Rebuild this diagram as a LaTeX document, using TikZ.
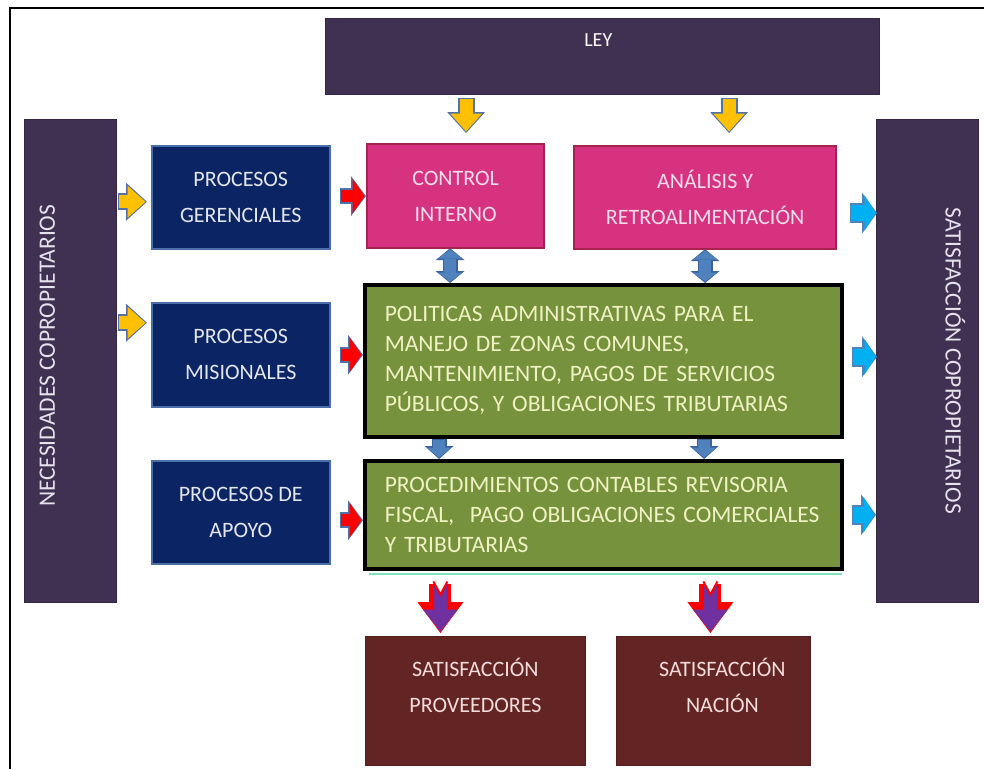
\documentclass[tikz,border=0pt]{standalone}
\usepackage{fontspec}
\setmainfont{Carlito}
\usetikzlibrary{calc,arrows.meta}

\definecolor{morado}{HTML}{403152}
\definecolor{azul}{HTML}{0B2463}
\definecolor{azulbd}{HTML}{4A6FA8}
\definecolor{rosa}{HTML}{D6327F}
\definecolor{rosabd}{HTML}{A8224E}
\definecolor{oliva}{HTML}{76923C}
\definecolor{cafe}{HTML}{632523}
\definecolor{amarillo}{HTML}{FFC000}
\definecolor{flechabd}{HTML}{4F72A8}
\definecolor{celeste}{HTML}{00B0F0}
\definecolor{acero}{HTML}{4F81BD}
\definecolor{acerobd}{HTML}{3A62A0}
\definecolor{violeta}{HTML}{7030A0}
\definecolor{txtverde}{HTML}{F0F2C4}
\definecolor{txtrosa}{HTML}{F8DDEA}
\definecolor{txtazul}{HTML}{E4E6EE}
\definecolor{txtcafe}{HTML}{F2DCDB}
\definecolor{txtlado}{HTML}{E6E2EC}
\definecolor{menta}{HTML}{7FE3B8}

\tikzset{
	caja/.style={anchor=north west, inner sep=0pt, align=center, font=\fontsize{22}{36}\selectfont},
	gerbox/.style={caja, fill=azul, draw=azulbd, line width=1.5pt, text=txtazul},
	rosabox/.style={caja, fill=rosa, draw=rosabd, line width=2.2pt, text=txtrosa},
	verdebox/.style={anchor=north west, fill=oliva, draw=black, line width=3.5pt, text=txtverde,
		align=left, inner xsep=20pt, inner ysep=0pt, text width=437pt, font=\fontsize{23.5}{30}\selectfont},
	barra/.style={anchor=north west, fill=morado, draw=morado!80!black, line width=0.6pt, inner sep=0pt},
	cafebox/.style={anchor=north west, fill=cafe, draw=cafe!85!black, line width=0.8pt, inner sep=0pt},
	cafetxt/.style={align=center, inner sep=0pt, text=txtcafe, font=\fontsize{22}{36}\selectfont},
	ladotxt/.style={inner sep=0pt, text=txtlado, font=\fontsize{23.5}{28}\selectfont},
	leytxt/.style={inner sep=0pt, text=white, font=\fontsize{20}{24}\selectfont},
	fat/.style n args={8}{draw=#1, line width=#3, shorten >=1.5pt, shorten <=1.2pt,
		-{Triangle[width=#4, length=#5, line width'=0pt]},
		preaction={draw=#2, line width=#6, shorten >=0pt, shorten <=0pt,
			-{Triangle[width=#7, length=#8, line width'=0pt]}}},
	fatdos/.style n args={8}{draw=#1, line width=#3, shorten >=1.5pt, shorten <=1.5pt,
		{Triangle[width=#4, length=#5, line width'=0pt]}-{Triangle[width=#4, length=#5, line width'=0pt]},
		preaction={draw=#2, line width=#6, shorten >=0pt, shorten <=0pt,
			{Triangle[width=#7, length=#8, line width'=0pt]}-{Triangle[width=#7, length=#8, line width'=0pt]}}},
	yarr/.style={fat={amarillo}{flechabd}{13pt}{32pt}{18pt}{17pt}{38pt}{21pt}},
	rarr/.style={fat={red}{flechabd}{12pt}{35pt}{12pt}{16pt}{40pt}{15pt}},
	carr/.style={fat={celeste}{acero}{16pt}{36pt}{11pt}{20pt}{41pt}{15pt}},
	barr/.style={fat={acero}{acerobd}{12pt}{25pt}{10pt}{15pt}{29pt}{13pt}},
	darr/.style={fatdos={acero}{acerobd}{12pt}{25pt}{9pt}{15pt}{29pt}{12pt}},
	parr/.style={fat={violeta}{red}{13pt}{35pt}{22pt}{22pt}{46pt}{31pt}},
	muesca/.style={fill=white, draw=red, line width=2pt}
}

\begin{document}
\begin{tikzpicture}[x=1pt, y=-1pt]
	\useasboundingbox (0,0) rectangle (984,769);
	\draw[line width=1.2pt] (10,769) |- (984,8);
	
	\node[barra, minimum width=554, minimum height=76] (ley) at (325,18) {};
	\node[barra, minimum width=92, minimum height=483] (necesidades) at (24,119) {};
	\node[barra, minimum width=102, minimum height=483] (satisf) at (876,119) {};
	
	\node[gerbox, minimum width=178, minimum height=103] (gerenciales) at (151,145) {PROCESOS\\GERENCIALES};
	\node[gerbox, minimum width=178, minimum height=104] (misionales) at (151,302) {PROCESOS\\MISIONALES};
	\node[gerbox, minimum width=178, minimum height=103] (apoyo) at (151,460) {PROCESOS DE\\APOYO};
	
	\node[rosabox, minimum width=177, minimum height=104] (control) at (366,143) {CONTROL\\INTERNO};
	\node[rosabox, minimum width=262, minimum height=103] (analisis) at (573,145) {ANÁLISIS Y\\RETROALIMENTACIÓN};
	
	\node[verdebox, minimum height=152] (politicas) at (363,283)
		{POLITICAS ADMINISTRATIVAS PARA EL\\MANEJO DE ZONAS COMUNES,\\MANTENIMIENTO, PAGOS DE SERVICIOS\\PÚBLICOS, Y OBLIGACIONES TRIBUTARIAS};
	\node[verdebox, minimum height=108] (procedimientos) at (363,459)
		{PROCEDIMIENTOS CONTABLES REVISORIA\\FISCAL,~ PAGO OBLIGACIONES COMERCIALES\\Y TRIBUTARIAS};
	\draw[menta, line width=1.5pt] ($(procedimientos.south west)+(6,3.5)$) -- ($(procedimientos.south east)+(-2,3.5)$);
	
	\node[cafebox, minimum width=220, minimum height=129] (proveedores) at (365,636) {};
	\node[cafebox, minimum width=194, minimum height=129] (nacion) at (616,636) {};
	
	\node[leytxt] (leytexto) at ($(ley.north)+(-4,22.5)$) {LEY};
	\node[ladotxt, rotate=90] (necesidadestexto) at ($(necesidades.center)+(-23,-5)$) {NECESIDADES COPROPIETARIOS};
	\node[ladotxt, rotate=-90] (satisftexto) at ($(satisf.center)+(28,0)$) {SATISFACCIÓN COPROPIETARIOS};
	\node[cafetxt] (proveedorestexto) at ($(proveedores.north)+(0,49)$) {SATISFACCIÓN\\PROVEEDORES};
	\node[cafetxt] (naciontexto) at ($(nacion.north)+(9,49)$) {SATISFACCIÓN\\NACIÓN};
	
	\draw[yarr] ($(ley.south -| control.north)+(10.5,3)$) -- ($(control.north)+(10.5,-10)$);
	\draw[yarr] ($(ley.south -| analisis.north)+(24,3)$) -- ($(analisis.north)+(24,-12)$);
	\draw[yarr] ($(necesidades.east |- gerenciales.west)+(1,4.5)$) -- ($(gerenciales.west)+(-4,4.5)$);
	\draw[yarr] ($(necesidades.east |- misionales.west)+(1,-32)$) -- ($(misionales.west)+(-4,-32)$);
	
	\draw[rarr] ($(gerenciales.east |- control.west)+(9,0)$) -- (control.west);
	\draw[rarr] ($(misionales.east)+(9,0)$) -- (misionales.east -| politicas.west);
	\draw[rarr] ($(apoyo.east)+(9,8)$) -- ($(apoyo.east -| procedimientos.west)+(0,8)$);
	
	\draw[darr] ($(control.south)+(-5.5,-1)$) -- ($(politicas.north -| control.south)+(-5.5,0)$);
	\draw[darr] ($(analisis.south)+(0,-1)$) -- (politicas.north -| analisis.south);
	
	\draw[barr] ($(politicas.south -| control.south)+(-16.5,0)$) -- ($(procedimientos.north -| control.south)+(-16.5,0)$);
	\draw[barr] ($(politicas.south -| analisis.south)+(-1,0)$) -- ($(procedimientos.north -| analisis.south)+(-1,0)$);
	
	\draw[carr] ($(analisis.east)+(13,15.5)$) -- ($(analisis.east -| satisf.west)+(1,15.5)$);
	\draw[carr] ($(politicas.east)+(8,-4)$) -- ($(politicas.east -| satisf.west)+(1,-4)$);
	\draw[carr] ($(procedimientos.east)+(8,0)$) -- (procedimientos.east -| satisf.west);
	
	\coordinate (colaprov) at ($(procedimientos.south -| proveedores.north)+(-35,13)$);
	\coordinate (colanac) at ($(procedimientos.south -| nacion.north)+(-3,13)$);
	\draw[parr] (colaprov) -- ($(proveedores.north)+(-35,-3)$);
	\draw[parr] (colanac) -- ($(nacion.north)+(-3,-3)$);
	\foreach \c in {colaprov, colanac}
		\filldraw[muesca] ($(\c)+(-7,-2)$) -- ($(\c)+(-6,0)$) -- ($(\c)+(0,11)$) -- ($(\c)+(6,0)$) -- ($(\c)+(7,-2)$);
\end{tikzpicture}
\end{document}
